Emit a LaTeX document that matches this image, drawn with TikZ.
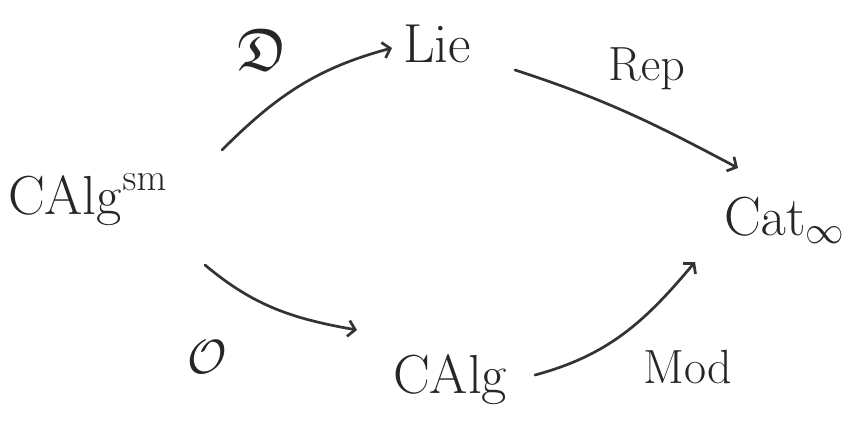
\RequirePackage{fix-cm}
\documentclass[tikz,border=0pt]{standalone}
\usepackage{amssymb}
\usetikzlibrary{arrows.meta}
\begin{document}
\begin{tikzpicture}[x=1pt,y=-1pt,
  obj/.style={inner sep=0pt,font=\fontsize{55}{62}\selectfont,text=black!85},
  lbl/.style={inner sep=0pt,font=\fontsize{48}{56}\selectfont,text=black!85},
  mor/.style={draw=black!80,line width=2.7pt,line cap=round,
    -{Straight Barb[length=7pt,width=16pt,line width=2.7pt]}}]
\useasboundingbox (0,0) rectangle (851,439);
% objects
\node[obj,anchor=base west] (sm)  at (8,214)  {$\mathrm{CAlg}^{\mathrm{sm}}$};
\node[obj,anchor=base west] (lie) at (403,62)  {$\mathrm{Lie}$};
\node[obj,anchor=base west] (cat) at (724,235) {$\mathrm{Cat}_{\infty}$};
\node[obj,anchor=base west] (alg) at (393,393) {$\mathrm{CAlg}$};
% labels of the morphisms
\node[lbl,font=\fontsize{60}{66}\selectfont] (d) at (262,50) {$\mathfrak{D}$};
\node[lbl,anchor=base west] (rep) at (608,80)  {$\mathrm{Rep}$};
\node[lbl] (o)   at (207,357) {$\mathcal{O}$};
\node[lbl,anchor=base west] (mod) at (643,383) {$\mathrm{Mod}$};
% end points of the arrows
\coordinate (s1) at (222,150); \coordinate (t1) at (392,48);
\coordinate (s2) at (515,70);  \coordinate (t2) at (738,168);
\coordinate (s3) at (205,265); \coordinate (t3) at (357,330);
\coordinate (s4) at (535,375); \coordinate (t4) at (695,262);
\draw[mor] (s1) to[out=45,in=195] (t1);
\draw[mor] (s2) to[out=-18,in=152] (t2);
\draw[mor] (s3) to[out=-40,in=170] (t3);
\draw[mor] (s4) to[out=15,in=-130] (t4);
\end{tikzpicture}
\end{document}
